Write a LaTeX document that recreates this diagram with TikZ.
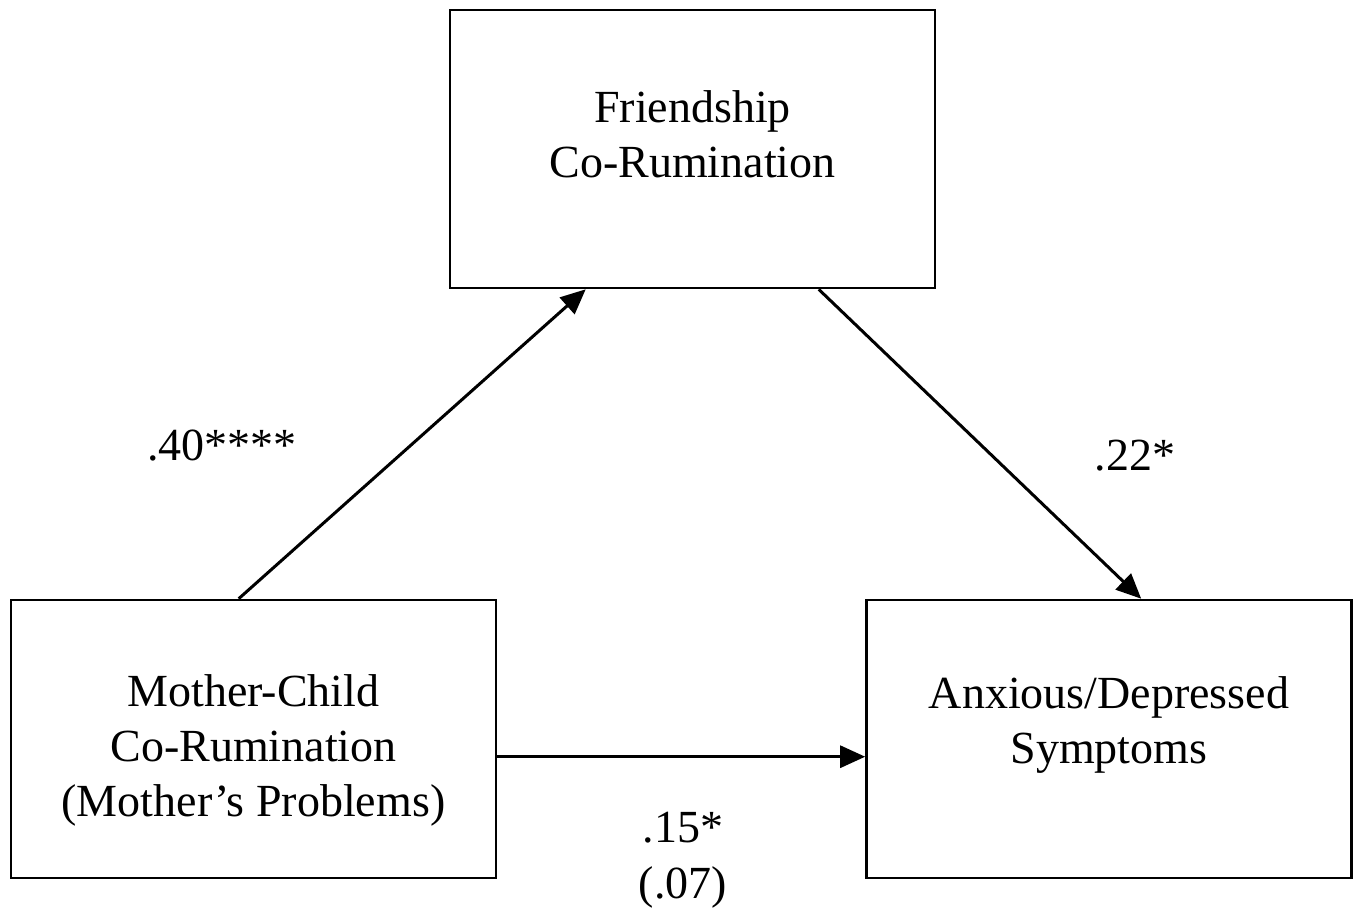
\documentclass[tikz,border=0pt]{standalone}
\usepackage{fontspec}
\setmainfont{Liberation Serif}
\usetikzlibrary{arrows.meta,calc}
\begin{document}
\begin{tikzpicture}[x=1pt,y=-1pt,
  box/.style={draw,line width=2.6pt,minimum width=485pt,minimum height=278pt,inner sep=0pt},
  txt/.style={align=center,font=\fontsize{46}{55}\selectfont,inner sep=0pt},
  lab/.style={font=\fontsize{46}{55}\selectfont,inner sep=0pt},
  arr/.style={line width=3pt,-{Triangle[length=25pt,width=22pt]}}]
\useasboundingbox (0,0) rectangle (1358,914);
\node[box] (top) at (692.5,149) {};
\node[box] (left) at (253.5,739) {};
\node[box] (right) at (1109,739) {};
\node[txt] (toptxt) at (692.5,134) {Friendship\\Co-Rumination};
\node[txt] (lefttxt) at (253.5,750) {Mother-Child\\Co-Rumination\\(Mother’s Problems)};
\node[txt] (righttxt) at (1109,725) {Anxious/Depressed\\Symptoms};
\coordinate (a1s) at ($(left.north west)+(229,0)$);
\coordinate (a1e) at ($(top.south west)+(137,0)$);
\coordinate (a2s) at ($(top.south west)+(370,0)$);
\coordinate (a2e) at ($(right.north west)+(276,0)$);
\coordinate (a3s) at ($(left.north east)+(0,158)$);
\coordinate (a3e) at ($(right.north west)+(0,158)$);
\draw[arr] (a1s) -- (a1e);
\draw[arr] (a2s) -- (a2e);
\draw[arr] (a3s) -- (a3e);
\node[lab] (l1) at (222,446) {.40****};
\node[lab] (l2) at (1135,456) {.22*};
\node[lab,align=center,font=\fontsize{46}{56}\selectfont] (l3) at (683,860) {.15*\\(.07)};
\end{tikzpicture}
\end{document}
